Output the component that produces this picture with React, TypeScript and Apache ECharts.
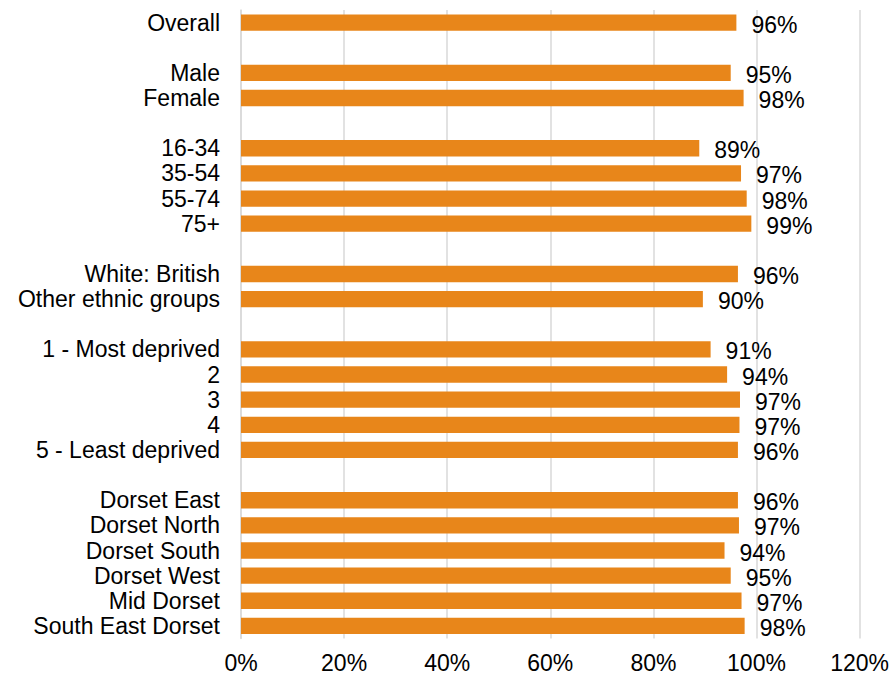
import React, { useEffect, useRef } from "react";
import * as echarts from "echarts";

const categories = [
  "Overall", "",
  "Male", "Female", "",
  "16-34", "35-54", "55-74", "75+", "",
  "White: British", "Other ethnic groups", "",
  "1 - Most deprived", "2", "3", "4", "5 - Least deprived", "",
  "Dorset East", "Dorset North", "Dorset South", "Dorset West", "Mid Dorset", "South East Dorset",
];

const values: (number | null)[] = [
  96.1, null,
  95.0, 97.5, null,
  88.9, 97.0, 98.1, 99.0, null,
  96.4, 89.6, null,
  91.1, 94.3, 96.8, 96.7, 96.4, null,
  96.4, 96.6, 93.8, 95.0, 97.1, 97.7,
];

const xTicks = [0, 20, 40, 60, 80, 100, 120];

const FONT = "'Liberation Sans', Arial, sans-serif";

export default function App() {
  const ref = useRef<HTMLDivElement>(null);
  useEffect(() => {
    if (!ref.current) return;
    const chart = echarts.init(ref.current, null, { renderer: "svg" });
    chart.setOption({
      animation: false,
      backgroundColor: "#ffffff",
      textStyle: { fontFamily: FONT },
      grid: { left: 241, right: 32, top: 10, bottom: 38.5, containLabel: false },
      xAxis: {
        type: "value",
        min: xTicks[0],
        max: xTicks[xTicks.length - 1],
        interval: 20,
        axisLine: { show: false },
        axisTick: { show: false },
        splitLine: { show: true, lineStyle: { color: "#d9d9d9", width: 1.5 } },
        axisLabel: {
          formatter: (v: number) => v + "%",
          color: "#000",
          fontSize: 23,
          fontFamily: FONT,
          margin: 13,
        },
      },
      yAxis: {
        type: "category",
        data: categories,
        inverse: true,
        axisLine: { show: true, lineStyle: { color: "#d9d9d9", width: 1.5 } },
        axisTick: { show: false },
        axisLabel: {
          interval: 0,
          color: "#000",
          fontSize: 23,
          fontFamily: FONT,
          margin: 21,
        },
      },
      series: [
        {
          type: "bar",
          data: values,
          barCategoryGap: "35%",
          itemStyle: { color: "#E8861A" },
          label: {
            show: true,
            position: "right",
            distance: 15,
            offset: [0, 2],
            formatter: (p: any) => (p.value == null ? "" : Math.round(p.value) + "%"),
            color: "#000",
            fontSize: 23,
            fontFamily: FONT,
          },
        },
      ],
    });
    return () => chart.dispose();
  }, []);
  return (
    <div
      ref={ref}
      style={{ position: "absolute", left: 0, top: 0, width: 892, height: 677 }}
    />
  );
}
